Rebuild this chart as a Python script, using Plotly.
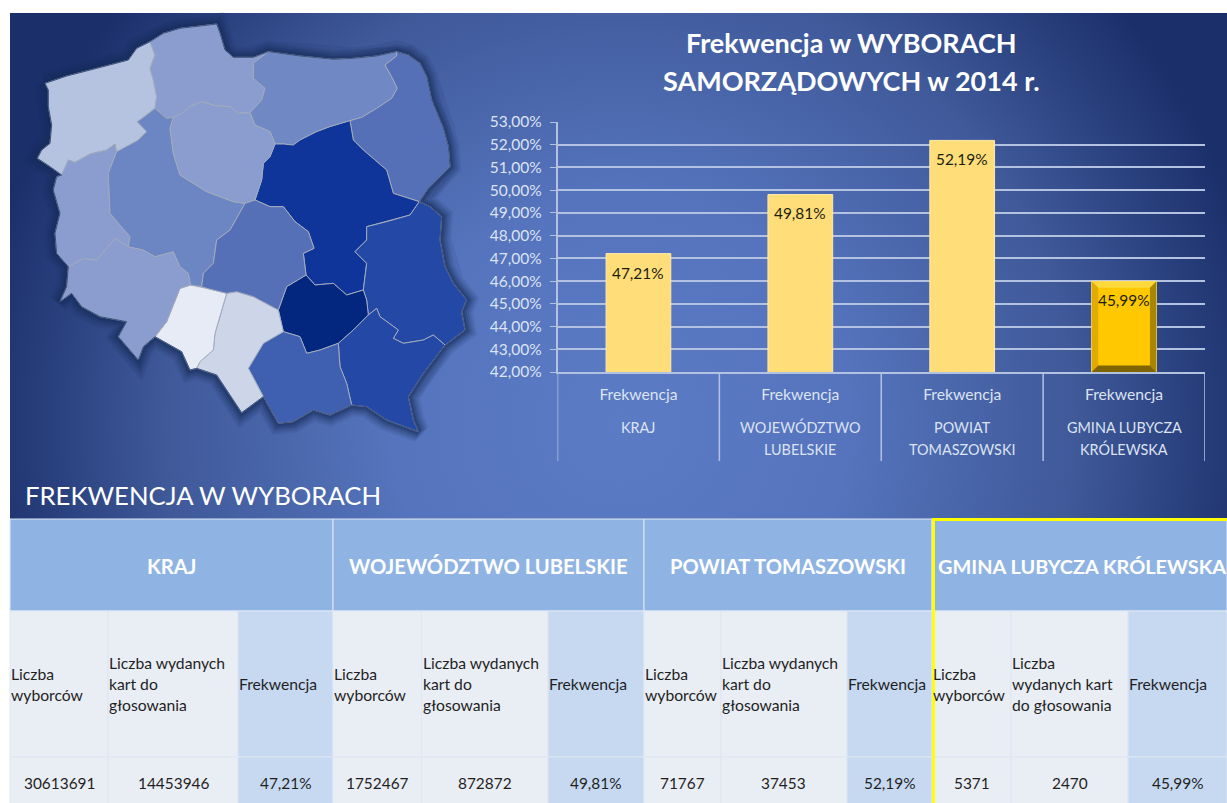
import base64
import plotly.graph_objects as go

W, H = 1227, 803

# ---------- data ----------
LEVELS = ["KRAJ", "WOJEWÓDZTWO LUBELSKIE", "POWIAT TOMASZOWSKI", "GMINA LUBYCZA KRÓLEWSKA"]
CATEGORY_LINES = [["KRAJ"], ["WOJEWÓDZTWO", "LUBELSKIE"], ["POWIAT", "TOMASZOWSKI"], ["GMINA LUBYCZA", "KRÓLEWSKA"]]
TURNOUT = [0.4721, 0.4981, 0.5219, 0.4599]
TURNOUT_LABELS = ["47,21%", "49,81%", "52,19%", "45,99%"]
ELECTORS = ["30613691", "1752467", "71767", "5371"]
BALLOTS = ["14453946", "872872", "37453", "2470"]
METRIC = "Frekwencja"
ELECTORS_HEAD = ["Liczba", "wyborców"]
BALLOTS_HEAD = ["Liczba wydanych", "kart do", "głosowania"]
BALLOTS_HEAD_LAST = ["Liczba", "wydanych kart", "do głosowania"]
TITLE_LINES = ["Frekwencja w WYBORACH", "SAMORZĄDOWYCH w 2014 r."]
TABLE_TITLE = "FREKWENCJA W WYBORACH"

# voivodeship outlines (3x image units)
ZACHODNIOPOMORSKIE = [(135,250),(200,228),(290,205),(385,180),(410,145),(450,125),(465,165),(450,205),(460,240),(470,290),(465,325),(440,345),(412,365),(440,395),(415,420),(390,435),(350,455),(345,432),(320,450),(270,462),(225,487),(205,480),(185,525),(150,500),(112,475),(125,450),(150,430),(155,375),(145,320),(145,270)]
POMORSKIE = [(450,125),(490,100),(540,85),(600,78),(650,72),(660,100),(675,150),(700,172),(760,172),(805,155),(760,190),(760,235),(795,265),(785,300),(750,338),(715,340),(690,320),(650,318),(605,305),(570,320),(545,340),(520,352),(500,355),(465,325),(470,290),(460,240),(450,205),(465,165)]
WARMINSKO_MAZURSKIE = [(805,155),(900,168),(1000,178),(1060,175),(1130,168),(1190,155),(1190,168),(1155,195),(1175,230),(1192,265),(1175,295),(1130,325),(1085,352),(1050,362),(990,380),(950,395),(900,420),(880,435),(850,432),(825,432),(810,395),(765,375),(750,338),(785,300),(795,265),(760,235),(760,190)]
PODLASKIE = [(1190,155),(1225,165),(1260,190),(1280,230),(1295,300),(1330,385),(1345,440),(1350,500),(1320,530),(1285,565),(1258,605),(1180,580),(1160,510),(1130,485),(1090,450),(1060,420),(1050,362),(1085,352),(1130,325),(1175,295),(1192,265),(1175,230),(1155,195),(1190,168)]
MAZOWIECKIE = [(1050,362),(1060,420),(1090,450),(1130,485),(1160,510),(1180,580),(1258,605),(1230,645),(1160,665),(1100,680),(1100,720),(1065,755),(1100,790),(1090,870),(1040,885),(1000,850),(945,855),(918,825),(910,760),(942,745),(925,695),(885,665),(850,620),(810,620),(765,600),(785,540),(790,490),(810,470),(825,432),(850,432),(880,435),(900,420),(950,395),(990,380)]
LUBELSKIE = [(1258,605),(1290,620),(1325,650),(1320,720),(1335,800),(1360,850),(1400,900),(1385,935),(1395,990),(1335,1035),(1300,1005),(1270,1020),(1210,1030),(1180,1015),(1195,990),(1140,950),(1130,925),(1105,945),(1100,900),(1090,870),(1100,790),(1065,755),(1100,720),(1100,680),(1160,665),(1230,645)]
SWIETOKRZYSKIE = [(918,825),(945,855),(1000,850),(1040,885),(1090,870),(1100,900),(1105,945),(1060,990),(1015,1030),(960,1050),(920,1060),(900,1010),(850,995),(835,930),(860,860)]
PODKARPACKIE = [(1015,1030),(1060,990),(1105,945),(1130,925),(1140,950),(1195,990),(1180,1015),(1210,1030),(1270,1020),(1300,1005),(1335,1035),(1270,1120),(1225,1190),(1240,1260),(1255,1295),(1160,1260),(1100,1220),(1055,1215),(1040,1150),(1020,1100)]
MALOPOLSKIE = [(850,995),(900,1010),(920,1060),(960,1050),(1015,1030),(1020,1100),(1040,1150),(1055,1215),(990,1245),(940,1230),(880,1265),(835,1270),(790,1190),(745,1105),(790,1030)]
SLASKIE = [(680,880),(710,875),(760,890),(835,930),(850,995),(790,1030),(745,1105),(790,1190),(725,1238),(680,1170),(650,1125),(590,1105),(600,1085),(640,1050),(645,1000),(660,950)]
OPOLSKIE = [(572,855),(620,865),(680,880),(660,950),(645,1000),(640,1050),(600,1085),(590,1105),(570,1110),(545,1055),(465,1010),(500,965),(540,865)]
DOLNOSLASKIE = [(205,800),(250,775),(290,780),(345,715),(385,740),(430,750),(465,770),(520,755),(540,800),(565,820),(572,855),(540,865),(500,965),(465,1010),(430,1040),(415,1080),(355,1010),(380,965),(300,950),(245,920),(215,880),(180,905),(200,860)]
LUBUSKIE = [(185,525),(205,480),(225,487),(270,462),(320,450),(345,432),(350,455),(325,520),(330,640),(390,710),(385,740),(345,715),(290,780),(250,775),(205,800),(170,760),(165,700),(180,640),(160,570),(170,530)]
WIELKOPOLSKIE = [(465,325),(500,355),(520,352),(510,385),(520,460),(540,525),(620,575),(700,605),(735,610),(690,690),(650,720),(640,790),(610,820),(605,860),(572,855),(565,820),(540,800),(520,755),(465,770),(430,750),(385,740),(390,710),(330,640),(325,520),(350,455),(390,435),(415,420),(440,395),(412,365),(440,345)]
KUJAWSKO_POMORSKIE = [(520,352),(545,340),(570,320),(605,305),(650,318),(690,320),(715,340),(750,338),(765,375),(810,395),(825,432),(810,470),(790,490),(785,540),(765,600),(735,610),(700,605),(620,575),(540,525),(520,460),(510,385)]
LODZKIE = [(735,610),(765,600),(810,620),(850,620),(885,665),(925,695),(942,745),(910,760),(918,825),(860,860),(835,930),(760,890),(710,875),(680,880),(620,865),(605,860),(610,820),(640,790),(650,720),(690,690)]
POLAND_OUTLINE = [(135,250),(200,228),(290,205),(385,180),(410,145),(450,125),(490,100),(540,85),(600,78),(650,72),(660,100),(675,150),(700,172),(760,172),(805,155),(900,168),(1000,178),(1060,175),(1130,168),(1190,155),(1225,165),(1260,190),(1280,230),(1295,300),(1330,385),(1345,440),(1350,500),(1320,530),(1285,565),(1258,605),(1290,620),(1325,650),(1320,720),(1335,800),(1360,850),(1400,900),(1385,935),(1395,990),(1335,1035),(1270,1120),(1225,1190),(1240,1260),(1255,1295),(1160,1260),(1100,1220),(1055,1215),(990,1245),(940,1230),(880,1265),(835,1270),(790,1190),(725,1238),(680,1170),(650,1125),(590,1105),(570,1110),(545,1055),(465,1010),(430,1040),(415,1080),(355,1010),(380,965),(300,950),(245,920),(215,880),(180,905),(200,860),(205,800),(170,760),(165,700),(180,640),(160,570),(170,530),(185,525),(150,500),(112,475),(125,450),(150,430),(155,375),(145,320),(145,270),(135,250)]

# ---------- style ----------
LATO = "Lato, Carlito, Calibri, sans-serif"
MAP_REGIONS = [
    (ZACHODNIOPOMORSKIE, "#b5c2e0"), (POMORSKIE, "#8a9dce"), (WARMINSKO_MAZURSKIE, "#7088c4"),
    (PODLASKIE, "#5670b8"), (MAZOWIECKIE, "#0f359a"), (LUBELSKIE, "#2348a5"),
    (SWIETOKRZYSKIE, "#03277f"), (PODKARPACKIE, "#2348a5"), (MALOPOLSKIE, "#3f5fb0"),
    (SLASKIE, "#cdd6e9"), (OPOLSKIE, "#e6ebf5"), (DOLNOSLASKIE, "#8a9dce"),
    (LUBUSKIE, "#8a9dce"), (WIELKOPOLSKIE, "#6c86c3"), (KUJAWSKO_POMORSKIE, "#8a9dce"),
    (LODZKIE, "#5670b8"),
]
GRID = "#b4c2e2"
CHART_TEXT = "#dce3f3"
BAR_COLOURS = ["#ffde7a", "#ffde7a", "#ffde7a", "#ffc800"]
PLOT_L, PLOT_R, PLOT_T, PLOT_B = 557.5, 1205, 122, 372
COL_EDGES = [10, 108, 238, 333, 421.5, 548, 644, 721, 847, 932, 1011, 1128, 1227]
ROW_EDGES = [519, 611, 757, 803]
BAR_WIDTH = 0.4


def px(x):
    return x / W


def py(y):
    return 1 - y / H


BG_SVG = f'''<svg xmlns="http://www.w3.org/2000/svg" width="1217" height="506" viewBox="0 0 1217 506">
<defs><radialGradient id="g" gradientUnits="userSpaceOnUse" cx="610" cy="410" r="650">
<stop offset="0" stop-color="#5b7bc4"/><stop offset="0.35" stop-color="#5574bd"/>
<stop offset="0.7" stop-color="#3f5999"/><stop offset="1" stop-color="#1b2f6b"/></radialGradient></defs>
<rect width="1217" height="506" fill="url(#g)"/></svg>'''
BG_URI = "data:image/svg+xml;base64," + base64.b64encode(BG_SVG.encode()).decode()

fig = go.Figure()

# map shadow and regions
ox, oy = zip(*POLAND_OUTLINE)
for width, alpha in [(22, 0.10), (18, 0.13), (14, 0.17), (10, 0.24), (6, 0.32)]:
    fig.add_trace(go.Scatter(x=ox, y=oy, xaxis="x2", yaxis="y2", mode="lines",
                             line=dict(color=f"rgba(22,44,88,{alpha})", width=width),
                             hoverinfo="skip", showlegend=False))
for pts, colour in MAP_REGIONS:
    xs, ys = zip(*(pts + pts[:1]))
    fig.add_trace(go.Scatter(x=xs, y=ys, xaxis="x2", yaxis="y2", mode="lines", fill="toself",
                             fillcolor=colour, line=dict(color="#a3acbd", width=1),
                             hoverinfo="skip", showlegend=False))
fig.add_trace(go.Scatter(x=ox, y=oy, xaxis="x2", yaxis="y2", mode="lines",
                         line=dict(color="rgba(30,55,105,0.75)", width=1),
                         hoverinfo="skip", showlegend=False))

# bars
positions = list(range(len(LEVELS)))
fig.add_trace(go.Bar(x=positions, y=TURNOUT, width=BAR_WIDTH, xaxis="x", yaxis="y",
                     marker=dict(color=BAR_COLOURS, line=dict(color="#ffe9ab", width=1)),
                     hoverinfo="skip", showlegend=False))

annotations = []


def text(x, y, s, size, colour, bold=False, anchor="center", xref="paper", yref="paper", yshift=0):
    annotations.append(dict(x=x, y=y, xref=xref, yref=yref, text=f"<b>{s}</b>" if bold else s,
                            showarrow=False, xanchor=anchor, yanchor="middle", yshift=yshift,
                            font=dict(family=LATO, size=size, color=colour)))


shapes = [dict(type="line", xref="x", yref="paper", x0=i - 0.5, x1=i - 0.5, y0=py(PLOT_B), y1=py(461),
               line=dict(color=GRID, width=1.5)) for i in range(len(LEVELS) + 1)]

# bevel of the highlighted bar
bx = positions[-1]
bv = TURNOUT[-1]
dx = 6.5 / ((PLOT_R - PLOT_L) / 4)
dy = 6.5 * 0.11 / (PLOT_B - PLOT_T)
xl, xr = bx - BAR_WIDTH / 2, bx + BAR_WIDTH / 2
yb, yt = 0.42, bv
for pts, colour in [
    ([(xl, yt), (xr, yt), (xr - dx, yt - dy), (xl + dx, yt - dy)], "#ffd83c"),
    ([(xl, yb), (xl, yt), (xl + dx, yt - dy), (xl + dx, yb + dy)], "#e2ab00"),
    ([(xr, yb), (xr, yt), (xr - dx, yt - dy), (xr - dx, yb + dy)], "#a88600"),
    ([(xl, yb), (xr, yb), (xr - dx, yb + dy), (xl + dx, yb + dy)], "#7f6500"),
]:
    path = "M " + " L ".join(f"{a},{b}" for a, b in pts) + " Z"
    shapes.append(dict(type="path", xref="x", yref="y", path=path, fillcolor=colour, line=dict(width=0)))

for i, lines in enumerate(CATEGORY_LINES):
    y0 = 427
    for j, s in enumerate(lines):
        text(i, py(y0 + 22 * j), s, 14.4, CHART_TEXT, xref="x")
for i, v in enumerate(TURNOUT):
    text(i, v, TURNOUT_LABELS[i], 15.4, "#1c1c10", xref="x", yref="y", yshift=-19)

# titles
for s, y in zip(TITLE_LINES, [43, 81]):
    text(px(851), py(y), s, 27, "white", bold=True)
text(px(23), py(495), TABLE_TITLE, 25.7, "white", anchor="left")

# table
def rect(x0, x1, y0, y1, fill):
    shapes.append(dict(type="rect", xref="paper", yref="paper", x0=px(x0), x1=px(x1), y0=py(y0), y1=py(y1),
                       fillcolor=fill, line=dict(color="#dfe7f4", width=1), layer="below"))


for g in range(4):
    c = g * 3
    rect(COL_EDGES[c], COL_EDGES[c + 3], ROW_EDGES[0], ROW_EDGES[1], "#8fb4e3")
    text(px((COL_EDGES[c] + COL_EDGES[c + 3]) / 2 if g < 3 else 1082), py(566), LEVELS[g], 20.2 if g < 3 else 19.9,
         "white", bold=True)
    fills = ["#e9edf4", "#e9edf4", "#c6d9f1"]
    values = [ELECTORS[g], BALLOTS[g], TURNOUT_LABELS[g]]
    heads = [ELECTORS_HEAD, BALLOTS_HEAD if g < 3 else BALLOTS_HEAD_LAST, [METRIC]]
    for k in range(3):
        x0, x1 = COL_EDGES[c + k], COL_EDGES[c + k + 1]
        rect(x0, x1, ROW_EDGES[1], ROW_EDGES[2], fills[k])
        rect(x0, x1, ROW_EDGES[2], ROW_EDGES[3] + 5, fills[k])
        n = len(heads[k])
        for j, s in enumerate(heads[k]):
            text(px(x0 - 1), py(684 + 21 * (j - (n - 1) / 2)), s, 15.7, "#1f1f1f", anchor="left")
        text(px((x0 + x1) / 2), py(783), values[k], 15.4, "#1f1f1f")

# highlight frame
shapes.append(dict(type="line", xref="paper", yref="paper", x0=px(933.5), x1=px(933.5), y0=py(519), y1=py(803),
                   line=dict(color="#ffff00", width=3)))
shapes.append(dict(type="line", xref="paper", yref="paper", x0=px(932), x1=1, y0=py(519.5), y1=py(519.5),
                   line=dict(color="#ffff00", width=3)))

fig.update_layout(
    width=W, height=H, margin=dict(l=0, r=0, t=0, b=0, pad=0, autoexpand=False),
    paper_bgcolor="white", plot_bgcolor="rgba(0,0,0,0)", separators=", ", showlegend=False,
    bargap=0.6,
    images=[dict(source=BG_URI, xref="paper", yref="paper", x=px(10), y=py(13), sizex=1217 / W, sizey=506 / H,
                 sizing="stretch", xanchor="left", yanchor="top", layer="below")],
    xaxis=dict(domain=[px(PLOT_L), px(PLOT_R)], range=[-0.5, 3.5], tickmode="array", tickvals=positions,
               ticktext=[METRIC] * 4, ticks="", showgrid=False, zeroline=False, showline=True, linecolor=GRID,
               linewidth=1.5, ticklabelstandoff=7, automargin=False,
               tickfont=dict(family=LATO, size=15.7, color=CHART_TEXT)),
    yaxis=dict(domain=[py(PLOT_B), py(PLOT_T)], range=[0.42, 0.53], dtick=0.01, tick0=0.42, tickformat=".2%",
               showgrid=True, gridcolor=GRID, gridwidth=1.5, zeroline=False, showline=True, linecolor=GRID,
               linewidth=1.5, ticks="outside", ticklen=6, tickcolor=GRID, ticklabelstandoff=5, automargin=False,
               tickfont=dict(family=LATO, size=15.5, color=CHART_TEXT)),
    xaxis2=dict(domain=[0, 1], range=[0, W * 3], visible=False, anchor="y2", fixedrange=True, automargin=False),
    yaxis2=dict(domain=[0, 1], range=[H * 3, 0], visible=False, anchor="x2", fixedrange=True, automargin=False),
    annotations=annotations, shapes=shapes,
)

fig.write_html("out.html", config=dict(displayModeBar=False),
               post_script="document.body.style.margin='0';document.body.style.overflow='hidden';")
